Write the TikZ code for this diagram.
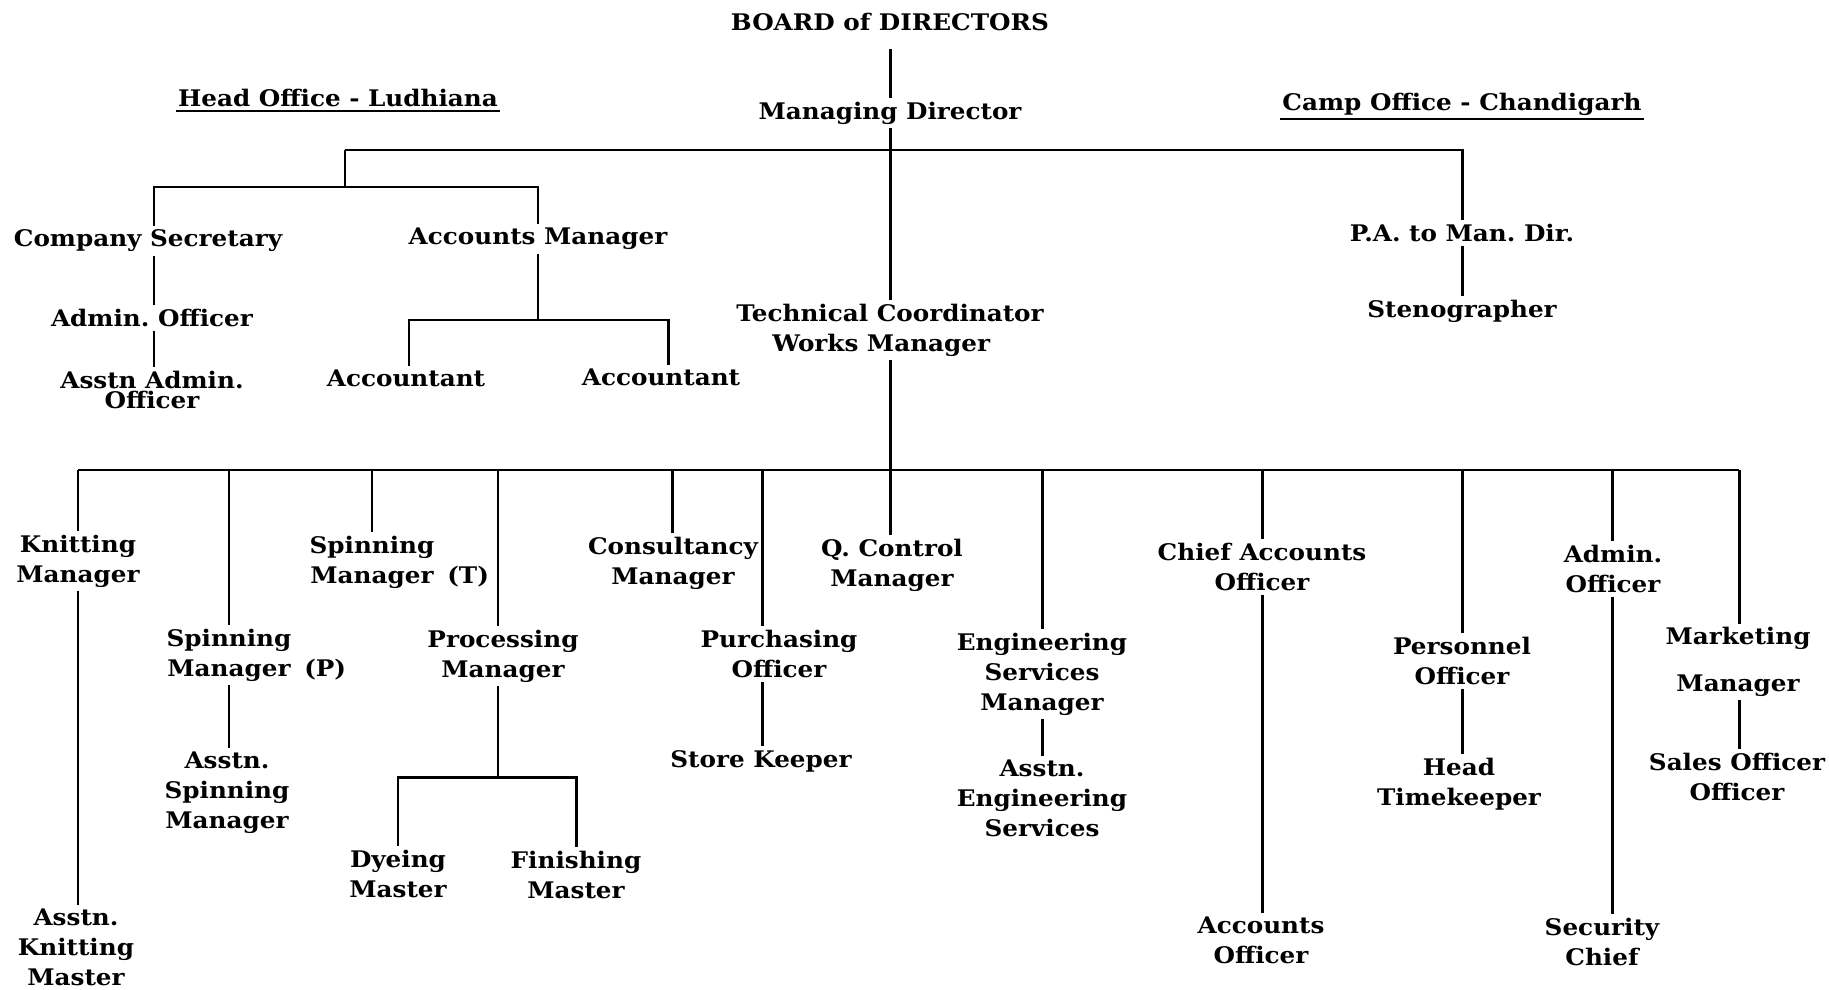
\documentclass[tikz,border=0pt]{standalone}
\usepackage{fontspec}
\setmainfont{DejaVu Serif}[FakeStretch=1.08]
\frenchspacing
\tikzstyle{post} = [align=center, inner sep=2pt, font=\bfseries\fontsize{13}{17}\selectfont]
\tikzstyle{head} = [post, inner xsep=1pt, inner ysep=2pt]
\tikzstyle{link} = [line width=1.7pt]

\begin{document}
\begin{tikzpicture}[x=0.02cm, y=-0.02cm]
	\useasboundingbox (0,0) rectangle (1829,990);
	% board and managing director
	\node[post] (bod) at (890,22) {BOARD of DIRECTORS};
	\node[post] (md) at (890,113) {Managing Director};
	\node[head] (ho) at (338,98) {Head Office - Ludhiana};
	\node[head] (co) at (1462,104) {Camp Office - Chandigarh};
	\draw[line width=1.1pt] (ho.south west) -- (ho.south east);
	\draw[line width=1.1pt] (co.south west) -- (co.south east);
	\draw[link, shorten <=8pt] (bod) -- (md);

	% head office side
	\node[post] (cs) at (148,241) {Company Secretary};
	\node[post] (ao) at (152,318) {Admin. Officer};
	\node[post] (aao) at (152,390) {Asstn Admin.\\[-5.7pt]Officer};
	\node[post] (am) at (538,239) {Accounts Manager};
	\node[post] (acc1) at (406,378) {Accountant};
	\node[post] (acc2) at (661,377) {Accountant};
	% camp office side
	\node[post] (pa) at (1462,233) {P.A. to Man. Dir.};
	\node[post] (steno) at (1462,311) {Stenographer};
	\node[post] (tc) at (890,330) {Technical Coordinator\\Works Manager\hspace*{10pt}};

	\coordinate (tl) at (345,150);
	\coordinate (tr) at (1462,150);
	\coordinate (hl) at (154,187);
	\coordinate (hr) at (538,187);
	\coordinate (al) at (409,320);
	\coordinate (ar) at (668,320);
	\draw[link] (md) -- (tc);
	\draw[link] (tl) -- (tr) -- (pa);
	\draw[link] (tl) -- (tl |- hl);
	\draw[link] (hl |- cs.north) -- (hl) -- (hr) -- (am);
	\draw[link] (cs.south -| hl) -- (ao.north -| hl);
	\draw[link] (ao.south -| hl) -- (aao.north -| hl);
	\draw[link] (am) -- (am |- al);
	\draw[link] (al |- acc1.north) -- (al) -- (ar) -- (ar |- acc2.north);
	\draw[link] (pa) -- (steno);

	% works departments
	\node[post] (km) at (78,561) {Knitting\\Manager};
	\node[post] (akm) at (76,947) {Asstn.\\Knitting\\Master};
	\node[post] (smp) at (229,655) {Spinning\\Manager\rlap{\hspace{0.6em}(P)}};
	\node[post] (asm) at (227,793) {Asstn.\\Spinning\\Manager};
	\node[post] (smt) at (372,562) {Spinning\\Manager\rlap{\hspace{0.6em}(T)}};
	\node[post] (pm) at (503,656) {Processing\\Manager};
	\node[post] (dm) at (398,874) {Dyeing\\Master};
	\node[post] (fm) at (576,875) {Finishing\\Master};
	\node[post] (cm) at (673,563) {Consultancy\\Manager};
	\node[post] (purch) at (779,654) {Purchasing\\Officer};
	\node[post] (sk) at (761,761) {Store Keeper};
	\node[post] (qc) at (892,565) {Q. Control\\Manager};
	\node[post] (esm) at (1042,674) {Engineering\\Services\\Manager};
	\node[post] (aes) at (1042,798) {Asstn.\\Engineering\\Services};
	\node[post] (cao) at (1262,567) {Chief Accounts\\Officer};
	\node[post] (aco) at (1261,940) {Accounts\\Officer};
	\node[post] (po) at (1462,661) {Personnel\\Officer};
	\node[post] (ht) at (1459,784) {Head\\Timekeeper};
	\node[post] (ado) at (1613,569) {Admin.\\Officer};
	\node[post] (sc) at (1602,942) {Security\\Chief};
	\node[post] (mm) at (1738,662) {Marketing\\[9.6pt]Manager};
	\node[post] (so) at (1737,777) {Sales Officer\\Officer};

	% bus under the works manager
	\coordinate (bus) at (890,470);
	\coordinate (t1) at (78,470);
	\coordinate (t2) at (229,470);
	\coordinate (t3) at (372,470);
	\coordinate (t4) at (498,470);
	\coordinate (t5) at (672,470);
	\coordinate (t6) at (762,470);
	\coordinate (t7) at (890,470);
	\coordinate (t8) at (1042,470);
	\coordinate (t9) at (1262,470);
	\coordinate (t10) at (1462,470);
	\coordinate (t11) at (1612,470);
	\coordinate (t12) at (1739,470);
	\draw[link] (tc) -- (bus);
	\draw[link] (t1) -- (t12);
	\foreach \t/\n in {t1/km, t2/smp, t3/smt, t4/pm, t5/cm, t6/purch, t7/qc, t8/esm, t9/cao, t10/po, t11/ado, t12/mm}
		\draw[link] (\t) -- (\t |- \n.north);
	\foreach \a/\b/\t in {km/akm/t1, smp/asm/t2, purch/sk/t6, esm/aes/t8, cao/aco/t9, po/ht/t10, ado/sc/t11, mm/so/t12}
		\draw[link] (\a.south -| \t) -- (\b.north -| \t);

	% dyeing and finishing under processing
	\coordinate (pl) at (398,777);
	\coordinate (pr) at (576,777);
	\draw[link] (pm.south -| t4) -- (t4 |- pl);
	\draw[link] (dm) -- (pl) -- (pr) -- (fm);
\end{tikzpicture}
\end{document}
